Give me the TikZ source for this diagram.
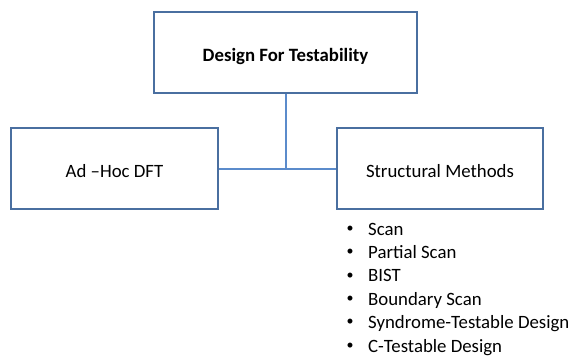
\documentclass[tikz,border=0pt]{standalone}
\usepackage{fontspec}
\setmainfont{Carlito}
\definecolor{boxblue}{HTML}{4A6FA0}
\definecolor{lineblue}{HTML}{5B8BCB}
\tikzset{
  dftbox/.style={draw=boxblue, line width=2pt, fill=white, inner sep=0pt,
    minimum height=81pt, text height=17pt, text depth=0pt,
    font=\fontsize{18.8}{22}\selectfont},
  link/.style={draw=lineblue, line width=2pt},
  item/.style={anchor=base west, inner sep=0pt, font=\fontsize{18.8}{22}\selectfont},
  dot/.style={inner sep=0pt, font=\fontsize{14}{16}\selectfont}
}
\begin{document}
\begin{tikzpicture}[x=1pt, y=-1pt]
	\useasboundingbox (0,0) rectangle (571,360);

	\node[dftbox, minimum width=263pt, font=\fontsize{18.8}{22}\selectfont\bfseries] (top) at (285.5,52.5) {Design For Testability};
	\node[dftbox, minimum width=207pt] (adhoc) at (114.5,168.5) {Ad --Hoc DFT};
	\node[dftbox, minimum width=206pt] (struct) at (440,168.5) {Structural Methods};

	\coordinate (joint) at (top.south |- adhoc.east);
	\draw[link] (top.south) -- (joint);
	\draw[link] (adhoc.east) -- (struct.west);

	\foreach \txt [count=\i] in {Scan, Partial Scan, BIST, Boundary Scan, Syndrome-Testable Design, C-Testable Design}{
	   \node[dot] (bullet\i) at (350,205.6+23.4*\i) {\textbullet};
	   \node[item] (method\i) at (368,211.6+23.4*\i) {\txt};
	}
\end{tikzpicture}
\end{document}
